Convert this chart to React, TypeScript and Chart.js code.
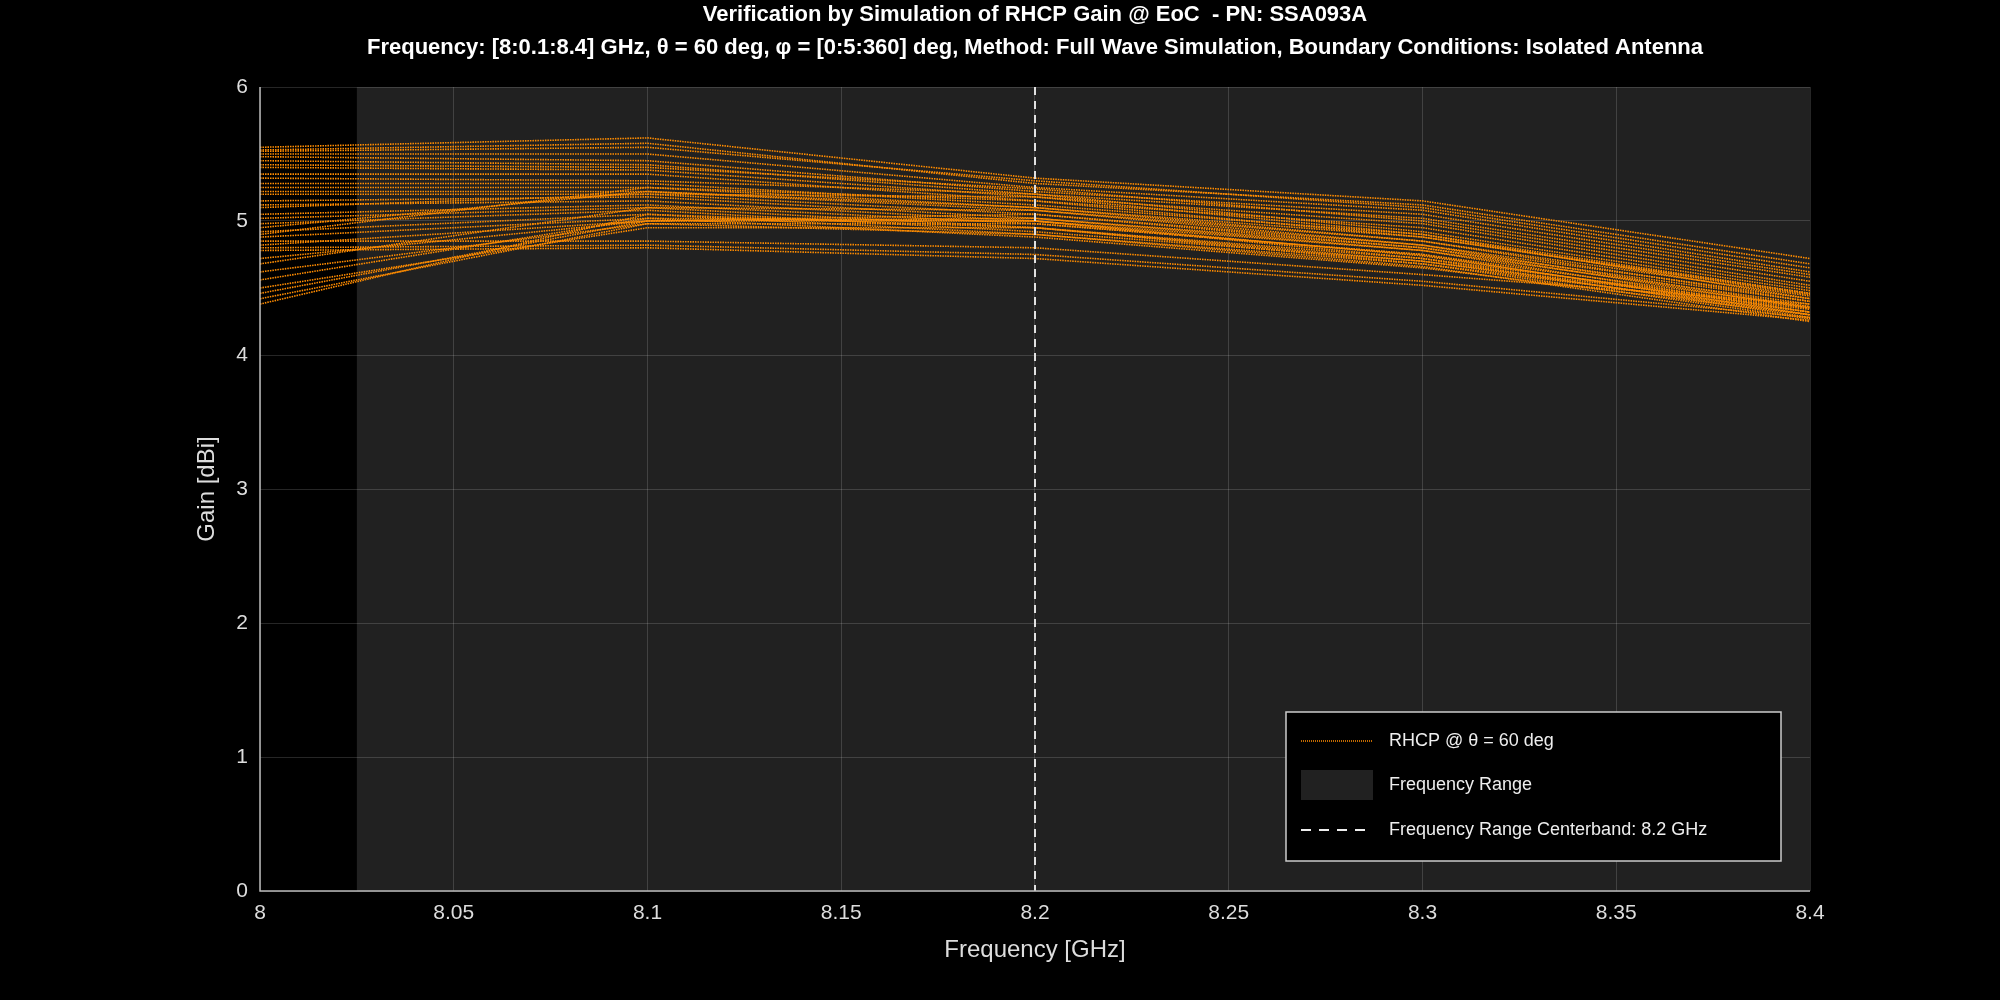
import React, { useRef, useEffect } from 'react';
import { Chart, registerables } from 'chart.js';

Chart.register(...registerables);

const freqs = [8.0, 8.1, 8.2, 8.3, 8.4];
// gain [dBi] per phi cut
const gains: number[][] = [
  [5.55, 5.62, 5.32, 5.15, 4.72],
  [5.53, 5.58, 5.28, 5.12, 4.68],
  [5.52, 5.55, 5.3, 5.1, 4.65],
  [5.5, 5.5, 5.25, 5.08, 4.62],
  [5.48, 5.45, 5.22, 5.05, 4.6],
  [5.45, 5.42, 5.2, 5.02, 4.58],
  [5.42, 5.4, 5.24, 5.0, 4.55],
  [5.4, 5.38, 5.18, 4.98, 4.52],
  [5.35, 5.35, 5.15, 4.95, 4.5],
  [5.32, 5.3, 5.2, 4.92, 4.48],
  [5.28, 5.28, 5.12, 4.9, 4.46],
  [5.25, 5.25, 5.1, 4.88, 4.45],
  [5.22, 5.22, 5.08, 4.85, 4.44],
  [5.2, 5.2, 5.05, 4.82, 4.42],
  [5.15, 5.18, 5.02, 4.8, 4.4],
  [5.12, 5.15, 5.0, 4.78, 4.38],
  [5.1, 5.2, 5.18, 4.9, 4.42],
  [5.05, 5.12, 4.98, 4.75, 4.36],
  [5.02, 5.1, 4.95, 4.72, 4.35],
  [4.98, 5.08, 4.92, 4.7, 4.34],
  [4.95, 5.22, 5.1, 4.85, 4.4],
  [4.92, 5.05, 4.9, 4.68, 4.32],
  [4.9, 5.25, 5.15, 4.88, 4.46],
  [4.88, 5.02, 4.88, 4.65, 4.3],
  [4.85, 4.85, 4.8, 4.6, 4.38],
  [4.82, 5.0, 5.05, 4.8, 4.35],
  [4.8, 4.82, 4.75, 4.55, 4.28],
  [4.78, 4.8, 4.72, 4.52, 4.26],
  [4.72, 5.0, 5.02, 4.78, 4.32],
  [4.68, 5.1, 5.08, 4.82, 4.36],
  [4.62, 4.98, 4.98, 4.75, 4.3],
  [4.56, 5.02, 5.0, 4.72, 4.28],
  [4.5, 4.95, 4.95, 4.7, 4.3],
  [4.46, 5.0, 5.0, 4.74, 4.32],
  [4.42, 4.98, 4.9, 4.66, 4.25],
  [4.38, 5.05, 4.95, 4.68, 4.27],
];
const xTicks = [8, 8.05, 8.1, 8.15, 8.2, 8.25, 8.3, 8.35, 8.4];
const bandStart = 8.025;
const bandEnd = 8.4;
const centerFreq = 8.2;
const titleLines = [
  'Verification by Simulation of RHCP Gain @ EoC  - PN: SSA093A',
  'Frequency: [8:0.1:8.4] GHz, θ = 60 deg, φ = [0:5:360] deg, Method: Full Wave Simulation, Boundary Conditions: Isolated Antenna',
];
const orange = '#ff8c00';
const font = 'Liberation Sans, Arial, sans-serif';

const bgPlugin = {
  id: 'bg',
  beforeDraw(chart: any) {
    const { ctx, chartArea: a, scales } = chart;
    ctx.save();
    ctx.fillStyle = '#000';
    ctx.fillRect(0, 0, chart.width, chart.height);
    const x0 = scales.x.getPixelForValue(bandStart);
    const x1 = scales.x.getPixelForValue(bandEnd);
    ctx.fillStyle = '#212121';
    ctx.fillRect(x0, a.top, x1 - x0, a.bottom - a.top);
    ctx.restore();
  },
  afterDatasetsDraw(chart: any) {
    const { ctx, chartArea: a, scales } = chart;
    ctx.save();
    const xc = scales.x.getPixelForValue(centerFreq);
    ctx.strokeStyle = '#e0e0e0';
    ctx.lineWidth = 2;
    ctx.setLineDash([8, 6]);
    ctx.beginPath();
    ctx.moveTo(xc, a.top);
    ctx.lineTo(xc, a.bottom);
    ctx.stroke();
    ctx.setLineDash([]);
    // axes
    ctx.strokeStyle = '#bbb';
    ctx.lineWidth = 1.5;
    ctx.beginPath();
    ctx.moveTo(a.left, a.top);
    ctx.lineTo(a.left, a.bottom);
    ctx.lineTo(a.right, a.bottom);
    ctx.stroke();
    // titles
    const cx = (a.left + a.right) / 2;
    ctx.fillStyle = '#fff';
    ctx.font = `bold 22px ${font}`;
    ctx.textAlign = 'center';
    ctx.textBaseline = 'middle';
    ctx.fillText(titleLines[0], cx, 15);
    ctx.fillText(titleLines[1], cx, 48);
    // y axis title
    ctx.fillStyle = '#ddd';
    ctx.font = `24px ${font}`;
    ctx.translate(207, (a.top + a.bottom) / 2);
    ctx.rotate(-Math.PI / 2);
    ctx.fillText('Gain [dBi]', 0, 0);
    ctx.setTransform(1, 0, 0, 1, 0, 0);
    ctx.textAlign = 'left';
    // legend
    const lx = 1286, ly = 712, lw = 495, lh = 149;
    ctx.fillStyle = '#000';
    ctx.fillRect(lx, ly, lw, lh);
    ctx.strokeStyle = '#ccc';
    ctx.lineWidth = 1.5;
    ctx.strokeRect(lx, ly, lw, lh);
    ctx.font = `18px ${font}`;
    const rows = [ly + 29, ly + 73, ly + 118];
    ctx.strokeStyle = orange;
    ctx.lineWidth = 1.5;
    ctx.setLineDash([1, 1]);
    ctx.beginPath();
    ctx.moveTo(lx + 15, rows[0]);
    ctx.lineTo(lx + 87, rows[0]);
    ctx.stroke();
    ctx.setLineDash([]);
    ctx.fillStyle = '#212121';
    ctx.fillRect(lx + 15, rows[1] - 15, 72, 30);
    ctx.strokeStyle = '#eee';
    ctx.lineWidth = 2;
    ctx.setLineDash([10, 8]);
    ctx.beginPath();
    ctx.moveTo(lx + 15, rows[2]);
    ctx.lineTo(lx + 87, rows[2]);
    ctx.stroke();
    ctx.setLineDash([]);
    ctx.fillStyle = '#eee';
    ctx.fillText('RHCP @ θ = 60 deg', lx + 103, rows[0]);
    ctx.fillText('Frequency Range', lx + 103, rows[1]);
    ctx.fillText('Frequency Range Centerband: 8.2 GHz', lx + 103, rows[2]);
    ctx.restore();
  },
};

export default function App() {
  const ref = useRef<HTMLCanvasElement>(null);
  useEffect(() => {
    document.body.style.margin = '0';
    document.body.style.background = '#000';
    if (!ref.current) return;
    const chart = new Chart(ref.current, {
      type: 'line',
      data: {
        datasets: gains.map((g) => ({
          data: g.map((y, i) => ({ x: freqs[i], y })),
          borderColor: orange,
          borderWidth: 1.6,
          borderDash: [1.5, 1],
          pointRadius: 0,
          fill: false,
        })),
      },
      options: {
        animation: false,
        responsive: false,
        layout: { padding: { left: 0, right: 190, top: 87, bottom: 31 } },
        plugins: {
          legend: { display: false },
          tooltip: { enabled: false },
          title: { display: false },
        },
        scales: {
          x: {
            type: 'linear',
            min: 8,
            max: 8.4,
            afterBuildTicks: (s: any) => { s.ticks = xTicks.map((v) => ({ value: v })); },
            ticks: { color: '#ddd', font: { family: font, size: 21 }, padding: 10, callback: (v: any) => String(Number(v)) },
            grid: { color: 'rgba(255,255,255,0.15)', drawTicks: false },
            border: { display: false },
            title: { display: true, text: 'Frequency [GHz]', color: '#ddd', font: { family: font, size: 24 }, padding: { top: 0 } },
          },
          y: {
            min: 0,
            max: 6,
            afterFit: (s: any) => { s.width = 260; },
            ticks: { stepSize: 1, color: '#ddd', font: { family: font, size: 21 }, padding: 12 },
            grid: { color: 'rgba(255,255,255,0.15)', drawTicks: false },
            border: { display: false },
          },
        },
      },
      plugins: [bgPlugin],
    } as any);
    return () => { chart.destroy(); };
  }, []);
  return <canvas ref={ref} width={2000} height={1000} style={{ display: 'block', width: 2000, height: 1000 }} />;
}
